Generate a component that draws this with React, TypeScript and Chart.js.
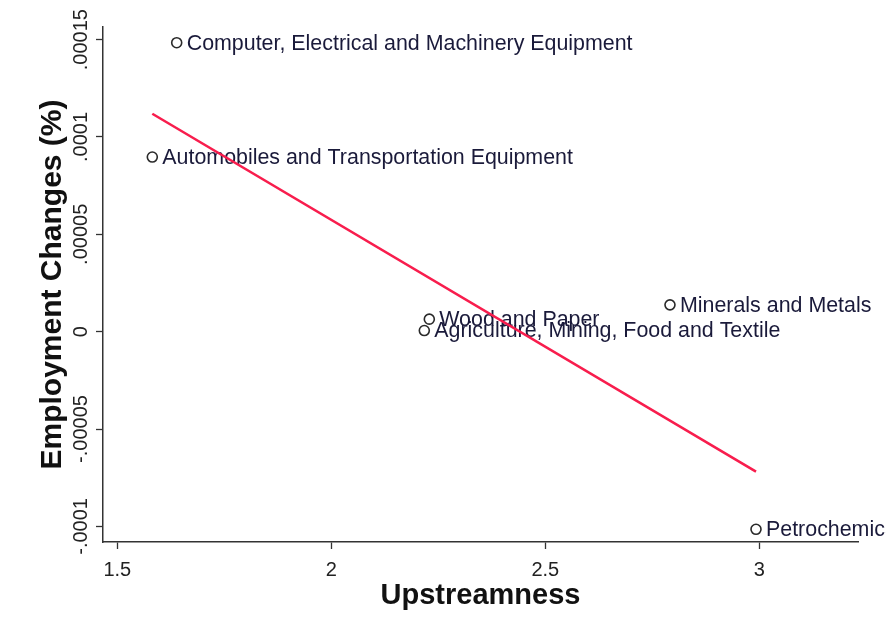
import React, { useEffect, useRef } from "react";
import { Chart, registerables } from "chart.js";

Chart.register(...registerables);

// ---- data ----
const sectors = [
  "Computer, Electrical and Machinery Equipment",
  "Automobiles and Transportation Equipment",
  "Wood and Paper",
  "Agriculture, Mining, Food and Textile",
  "Minerals and Metals",
  "Petrochemicals",
];
const upstreamness = [1.6388, 1.5818, 2.229, 2.2173, 2.7913, 2.9923];
const employmentChange = [0.00014841, 0.00008967, 0.00000642, 0.00000057, 0.00001377, -0.0001015];

// fitted line end points
const fitX = [1.5818, 2.9923];
const fitY = [0.00011192, -0.0000719];

const xTicks = [1.5, 2, 2.5, 3];
const xTickLabels = ["1.5", "2", "2.5", "3"];
const yTicks = [-0.0001, -0.00005, 0, 0.00005, 0.0001, 0.00015];
const yTickLabels = ["-.0001", "-.00005", "0", ".00005", ".0001", ".00015"];

const xTitle = "Upstreamness";
const yTitle = "Employment Changes (%)";

const FONT = "'Liberation Sans', Arial, sans-serif";

const markerLabelPlugin = {
  id: "markerLabels",
  afterDatasetDraw(chart: any, args: any) {
    if (args.index !== 1) return;
    const ctx = chart.ctx;
    const meta = chart.getDatasetMeta(1);
    ctx.save();
    ctx.font = `21.4px ${FONT}`;
    ctx.fillStyle = "#1a1a3a";
    ctx.textAlign = "left";
    ctx.textBaseline = "middle";
    meta.data.forEach((pt: any, i: number) => {
      ctx.fillText(sectors[i], pt.x + 10, pt.y + 1);
    });
    ctx.restore();
  },
};

const yTickLabelPlugin = {
  id: "yTickLabels",
  afterDraw(chart: any) {
    const ctx = chart.ctx;
    const ys = chart.scales.y;
    ctx.save();
    ctx.font = `20px ${FONT}`;
    ctx.fillStyle = "#222";
    ctx.textAlign = "center";
    ctx.textBaseline = "alphabetic";
    yTicks.forEach((v, i) => {
      const py = ys.getPixelForValue(v);
      ctx.save();
      ctx.translate(ys.right - 16, py);
      ctx.rotate(-Math.PI / 2);
      ctx.fillText(yTickLabels[i], 0, 0);
      ctx.restore();
    });
    ctx.restore();
  },
};

export default function App() {
  const ref = useRef<HTMLCanvasElement | null>(null);

  useEffect(() => {
    document.body.style.margin = "0";
    const canvas = ref.current;
    if (!canvas) return;
    const chart = new Chart(canvas, {
      type: "scatter",
      data: {
        datasets: [
          {
            type: "line",
            data: fitX.map((x, i) => ({ x, y: fitY[i] })),
            borderColor: "#f81d4d",
            borderWidth: 2.6,
            pointRadius: 0,
            showLine: true,
            fill: false,
          } as any,
          {
            data: upstreamness.map((x, i) => ({ x, y: employmentChange[i] })),
            pointRadius: 5,
            pointBorderWidth: 1.6,
            pointBorderColor: "#2a2a2a",
            pointBackgroundColor: "rgba(0,0,0,0)",
            showLine: false,
          },
        ],
      },
      options: {
        animation: false,
        responsive: false,
        maintainAspectRatio: false,
        devicePixelRatio: 1,
        layout: { padding: { top: 27, right: 28, left: 0, bottom: 0 } },
        plugins: {
          legend: { display: false },
          tooltip: { enabled: false },
        },
        scales: {
          x: {
            type: "linear",
            min: 1.4666,
            max: 3.2306,
            afterBuildTicks: (s: any) => {
              s.ticks = xTicks.map((v) => ({ value: v }));
            },
            afterFit: (s: any) => {
              s.height = 91;
            },
            ticks: {
              autoSkip: false,
              maxRotation: 0,
              minRotation: 0,
              padding: 9,
              color: "#222",
              font: { family: FONT, size: 20 },
              callback: (v: any) => {
                const i = xTicks.indexOf(Number(v));
                return i >= 0 ? xTickLabels[i] : "";
              },
            },
            grid: {
              drawOnChartArea: false,
              drawTicks: true,
              tickLength: 7,
              tickColor: "#333",
              tickWidth: 1.3,
            },
            border: { display: true, color: "#333", width: 1.5 },
            title: {
              display: true,
              text: xTitle,
              color: "#111",
              font: { family: FONT, size: 29, weight: "bold" },
              padding: { top: 0, bottom: 20 },
            },
          },
          y: {
            type: "linear",
            min: -0.00010802,
            max: 0.00015647,
            afterBuildTicks: (s: any) => {
              s.ticks = yTicks.map((v) => ({ value: v }));
            },
            afterFit: (s: any) => {
              s.width = 103;
            },
            ticks: { display: false },
            grid: {
              drawOnChartArea: false,
              drawTicks: true,
              tickLength: 7,
              tickColor: "#333",
              tickWidth: 1.3,
            },
            border: { display: true, color: "#333", width: 1.5 },
            title: {
              display: true,
              text: yTitle,
              color: "#111",
              font: { family: FONT, size: 30, weight: "bold" },
              padding: { top: 35, bottom: 0 },
            },
          },
        },
      },
      plugins: [markerLabelPlugin, yTickLabelPlugin],
    });
    return () => chart.destroy();
  }, []);

  return (
    <div style={{ position: "absolute", left: 0, top: 0, width: 886, height: 633, background: "#fff" }}>
      <canvas ref={ref} width={886} height={633} style={{ display: "block" }} />
    </div>
  );
}
